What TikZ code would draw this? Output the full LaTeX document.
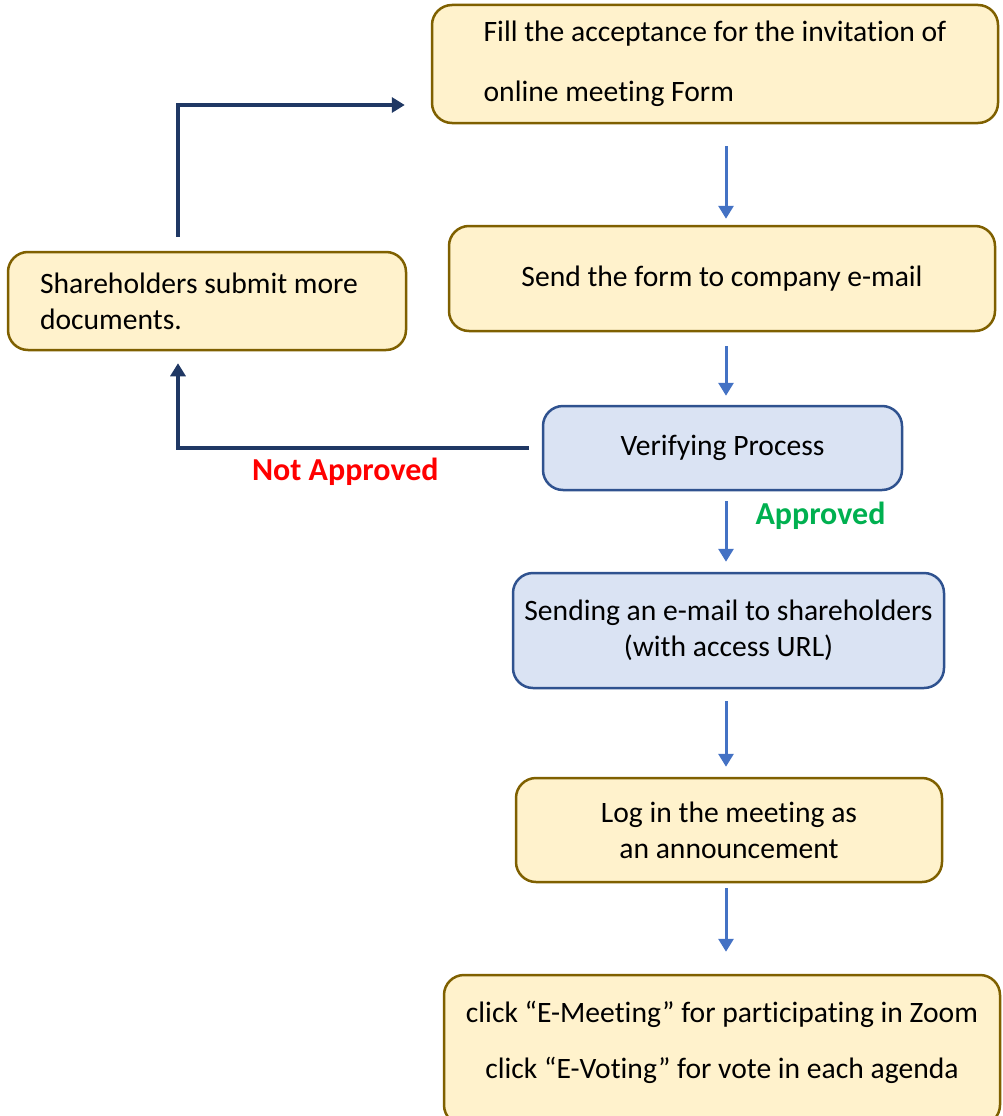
\documentclass[tikz,border=0pt]{standalone}
\usepackage{fontspec}
\setmainfont{Carlito}[Ligatures=NoCommon]
\usepackage{tikz}
\usetikzlibrary{positioning,arrows.meta,calc}
\definecolor{boxyellow}{HTML}{FFF2CC}
\definecolor{edgebrown}{HTML}{7F6000}
\definecolor{boxblue}{HTML}{DAE3F3}
\definecolor{edgeblue}{HTML}{2F528F}
\definecolor{flowblue}{HTML}{4472C4}
\definecolor{backnavy}{HTML}{203864}
\definecolor{notred}{HTML}{FF0000}
\definecolor{okgreen}{HTML}{00B050}

\begin{document}
\begin{tikzpicture}[x=1pt, y=-1pt]
\tikzset{
  stepyellow/.style={rectangle, rounded corners=20pt, draw=edgebrown, line width=2.5pt,
    fill=boxyellow, inner sep=0pt, align=center, font=\fontsize{29.6}{36}\selectfont},
  stepblue/.style={rectangle, rounded corners=20pt, draw=edgeblue, line width=2.5pt,
    fill=boxblue, inner sep=0pt, align=center, font=\fontsize{29.6}{36}\selectfont},
  fl/.style={-{Triangle[width=15pt,length=13pt]}, draw=flowblue, line width=3pt},
  back/.style={-{Triangle[width=15pt,length=13pt]}, draw=backnavy, line width=4pt},
  lbl/.style={font=\fontsize{32}{36}\selectfont\bfseries, inner sep=0pt}
}
\useasboundingbox (0,0) rectangle (1002,1116);
\node[stepyellow, minimum width=566pt, minimum height=118pt, align=left] (form) at (715,64)
  {Fill the acceptance for the invitation of\\[24pt]online meeting Form};
\node[stepyellow, minimum width=546pt, minimum height=105pt] (send) at (722,278.5) {Send the form to company e-mail};
\node[stepyellow, minimum width=398pt, minimum height=98pt, text width=334pt, align=flush left] (more) at (207,301)
  {Shareholders submit more\\documents.};
\node[stepblue, minimum width=359pt, minimum height=84pt] (verify) at (722.5,448) {Verifying Process};
\node[stepblue, minimum width=431pt, minimum height=115pt] (mail) at (728.5,630.5)
  {Sending an e-mail to shareholders\\(with access URL)};
\node[stepyellow, minimum width=426pt, minimum height=104pt] (login) at (729,830)
  {Log in the meeting as\\an announcement};
\node[stepyellow, minimum width=556pt, minimum height=150pt, text depth=20pt] (click) at (722,1050)
  {click “E-Meeting” for participating in Zoom\\[20pt]click “E-Voting” for vote in each agenda};
\coordinate (spine) at (726,0);
\coordinate (loop) at (178,0);
\draw[fl, shorten <=22pt, shorten >=6pt] (form.south -| spine) -- (send.north -| spine);
\draw[fl, shorten <=14pt, shorten >=9pt] (send.south -| spine) -- (verify.north -| spine);
\draw[fl, shorten <=10pt, shorten >=10pt] (verify.south -| spine) -- node[lbl, text=okgreen, right=28pt, pos=0.3] {Approved} (mail.north -| spine);
\draw[fl, shorten <=12pt, shorten >=10pt] (mail.south -| spine) -- (login.north -| spine);
\draw[fl, shorten <=5pt, shorten >=22pt] (login.south -| spine) -- (click.north -| spine);
\draw[back, shorten <=14pt, shorten >=26pt] (more.north -| loop) |- ([yshift=-41pt]form.west);
\draw[back, shorten <=13pt, shorten >=12pt] (verify.west) -| node[lbl, text=notred, pos=0.27, below=8pt] {Not Approved} (more.south -| loop);
\end{tikzpicture}
\end{document}
